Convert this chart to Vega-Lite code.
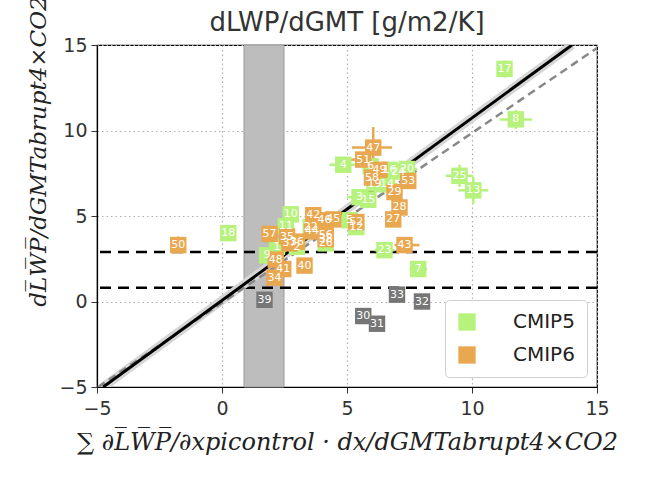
{
  "$schema": "https://vega.github.io/schema/vega-lite/v6.json",
  "autosize": {"type": "none"},
  "width": 500,
  "height": 342,
  "padding": {"left": 97, "top": 45, "right": 49, "bottom": 106},
  "background": "white",
  "title": {"text": "dLWP/dGMT [g/m2/K]", "fontSize": 26, "fontWeight": "normal", "font": "DejaVu Sans", "color": "#333333", "offset": 10, "dy": 50},
  "config": {
    "view": {"stroke": "black", "strokeWidth": 1.2},
    "axis": {"labelFontSize": 19, "labelFont": "DejaVu Sans", "labelColor": "#333333", "labelFlush": false, "tickColor": "#333333", "tickSize": 6, "domainColor": "black", "domainWidth": 1.2, "gridColor": "#b0b0b0", "gridDash": [1.5, 3], "gridWidth": 1.2, "titleFont": "DejaVu Serif", "titleFontStyle": "italic", "titleFontWeight": "normal", "titleColor": "#222222"}
  },
  "datasets": {
    "pts": [
      {"id": "1", "x": 2.2, "y": 3.2, "g": "CMIP5"},
      {"id": "2", "x": 3.0, "y": 3.2, "g": "CMIP5"},
      {"id": "3", "x": 5.5, "y": 6.1, "g": "CMIP5"},
      {"id": "4", "x": 4.85, "y": 8.0, "g": "CMIP5"},
      {"id": "5", "x": 5.1, "y": 4.75, "g": "CMIP5"},
      {"id": "6", "x": 5.95, "y": 7.9, "g": "CMIP5"},
      {"id": "7", "x": 7.85, "y": 1.9, "g": "CMIP5"},
      {"id": "8", "x": 11.75, "y": 10.65, "g": "CMIP5"},
      {"id": "9", "x": 1.8, "y": 2.7, "g": "CMIP5"},
      {"id": "10", "x": 2.75, "y": 5.1, "g": "CMIP5"},
      {"id": "11", "x": 2.55, "y": 4.4, "g": "CMIP5"},
      {"id": "12", "x": 5.37, "y": 4.35, "g": "CMIP5"},
      {"id": "13", "x": 10.05, "y": 6.5, "g": "CMIP5"},
      {"id": "14", "x": 6.6, "y": 6.85, "g": "CMIP5"},
      {"id": "15", "x": 5.85, "y": 5.95, "g": "CMIP5"},
      {"id": "16", "x": 6.7, "y": 7.7, "g": "CMIP5"},
      {"id": "17", "x": 11.3, "y": 13.6, "g": "CMIP5"},
      {"id": "18", "x": 0.25, "y": 4.0, "g": "CMIP5"},
      {"id": "19", "x": 6.1, "y": 6.9, "g": "CMIP5"},
      {"id": "20", "x": 7.4, "y": 7.75, "g": "CMIP5"},
      {"id": "22", "x": 3.55, "y": 4.35, "g": "CMIP5"},
      {"id": "23", "x": 6.5, "y": 3.0, "g": "CMIP5"},
      {"id": "24", "x": 7.05, "y": 7.6, "g": "CMIP5"},
      {"id": "25", "x": 9.5, "y": 7.35, "g": "CMIP5"},
      {"id": "26", "x": 4.15, "y": 3.4, "g": "CMIP5"},
      {"id": "27", "x": 6.85, "y": 4.8, "g": "CMIP6"},
      {"id": "28", "x": 7.1, "y": 5.5, "g": "CMIP6"},
      {"id": "29", "x": 6.9, "y": 6.4, "g": "CMIP6"},
      {"id": "34", "x": 2.1, "y": 1.4, "g": "CMIP6"},
      {"id": "35", "x": 2.6, "y": 3.8, "g": "CMIP6"},
      {"id": "36", "x": 3.0, "y": 3.5, "g": "CMIP6"},
      {"id": "37", "x": 2.7, "y": 3.4, "g": "CMIP6"},
      {"id": "38", "x": 4.15, "y": 3.65, "g": "CMIP6"},
      {"id": "40", "x": 3.3, "y": 2.1, "g": "CMIP6"},
      {"id": "41", "x": 2.45, "y": 1.9, "g": "CMIP6"},
      {"id": "42", "x": 3.65, "y": 5.05, "g": "CMIP6"},
      {"id": "43", "x": 7.3, "y": 3.3, "g": "CMIP6"},
      {"id": "44", "x": 3.6, "y": 4.1, "g": "CMIP6"},
      {"id": "45", "x": 4.45, "y": 4.8, "g": "CMIP6"},
      {"id": "46", "x": 4.1, "y": 4.75, "g": "CMIP6"},
      {"id": "47", "x": 6.05, "y": 9.0, "g": "CMIP6"},
      {"id": "48", "x": 2.15, "y": 2.45, "g": "CMIP6"},
      {"id": "49", "x": 6.3, "y": 7.7, "g": "CMIP6"},
      {"id": "50", "x": -1.75, "y": 3.3, "g": "CMIP6"},
      {"id": "51", "x": 5.65, "y": 8.3, "g": "CMIP6"},
      {"id": "52", "x": 5.37, "y": 4.65, "g": "CMIP6"},
      {"id": "53", "x": 7.45, "y": 7.05, "g": "CMIP6"},
      {"id": "56", "x": 4.15, "y": 3.9, "g": "CMIP6"},
      {"id": "57", "x": 1.9, "y": 3.95, "g": "CMIP6"},
      {"id": "58", "x": 6.0, "y": 7.25, "g": "CMIP6"},
      {"id": "30", "x": 5.65, "y": -0.85, "g": "excluded"},
      {"id": "31", "x": 6.2, "y": -1.3, "g": "excluded"},
      {"id": "32", "x": 8.0, "y": 0.0, "g": "excluded"},
      {"id": "33", "x": 7.0, "y": 0.4, "g": "excluded"},
      {"id": "39", "x": 1.7, "y": 0.1, "g": "excluded"}
    ],
    "errs": [
      {"x": 4.85, "y": 8.0, "xlo": 4.3, "xhi": 5.4, "ylo": 7.7, "yhi": 8.3, "g": "CMIP5"},
      {"x": 11.75, "y": 10.65, "xlo": 11.1, "xhi": 12.4, "ylo": 10.1, "yhi": 11.2, "g": "CMIP5"},
      {"x": 10.05, "y": 6.5, "xlo": 9.45, "xhi": 10.65, "ylo": 5.7, "yhi": 7.3, "g": "CMIP5"},
      {"x": 11.3, "y": 13.6, "xlo": 11.0, "xhi": 11.6, "ylo": 13.1, "yhi": 14.1, "g": "CMIP5"},
      {"x": 9.5, "y": 7.35, "xlo": 8.95, "xhi": 10.05, "ylo": 6.7, "yhi": 8.0, "g": "CMIP5"},
      {"x": 6.5, "y": 3.0, "xlo": 6.1, "xhi": 6.9, "ylo": 2.7, "yhi": 3.3, "g": "CMIP5"},
      {"x": 5.5, "y": 6.1, "xlo": 5.0, "xhi": 6.0, "ylo": 5.7, "yhi": 6.5, "g": "CMIP5"},
      {"x": 5.1, "y": 4.75, "xlo": 4.8, "xhi": 5.5, "ylo": 4.3, "yhi": 5.2, "g": "CMIP5"},
      {"x": 5.37, "y": 4.35, "xlo": 5.0, "xhi": 5.7, "ylo": 4.0, "yhi": 4.8, "g": "CMIP5"},
      {"x": 7.85, "y": 1.9, "xlo": 7.5, "xhi": 8.2, "ylo": 1.5, "yhi": 2.3, "g": "CMIP5"},
      {"x": 7.4, "y": 7.75, "xlo": 7.0, "xhi": 7.8, "ylo": 7.4, "yhi": 8.1, "g": "CMIP5"},
      {"x": 6.6, "y": 6.85, "xlo": 6.2, "xhi": 7.0, "ylo": 6.5, "yhi": 7.2, "g": "CMIP5"},
      {"x": 6.05, "y": 9.0, "xlo": 5.2, "xhi": 6.8, "ylo": 7.8, "yhi": 10.2, "g": "CMIP6"},
      {"x": 5.65, "y": 8.3, "xlo": 5.1, "xhi": 6.2, "ylo": 7.9, "yhi": 8.7, "g": "CMIP6"},
      {"x": 7.3, "y": 3.3, "xlo": 6.9, "xhi": 7.9, "ylo": 3.0, "yhi": 3.6, "g": "CMIP6"},
      {"x": -1.75, "y": 3.3, "xlo": -2.0, "xhi": -1.5, "ylo": 2.8, "yhi": 3.8, "g": "CMIP6"}
    ],
    "band": [{"x1": 0.88, "x2": 2.48}],
    "hlines": [{"y": 2.9}, {"y": 0.8}],
    "fit": [{"x1": -4.75, "y1": -5, "x2": 14.0, "y2": 15}],
    "ref": [{"x1": -4.96, "y1": -5, "x2": 15, "y2": 14.82}]
  },
  "layer": [
    {
      "data": {"name": "band"},
      "mark": {"type": "rect", "color": "#bdbdbd", "stroke": "#9a9a9a", "strokeWidth": 1},
      "encoding": {
        "x": {"field": "x1", "type": "quantitative", "scale": {"domain": [-5, 15], "nice": false, "zero": false},
          "axis": {"values": [-5, 0, 5, 10, 15], "grid": true, "title": "∑ ∂L̅W̅P̅/∂xpicontrol · dx/dGMTabrupt4×CO2", "titleFontSize": 24, "titlePadding": 12, "labelPadding": 6}},
        "x2": {"field": "x2"}
      }
    },
    {
      "data": {"name": "hlines"},
      "mark": {"type": "rule", "color": "black", "strokeWidth": 2.5, "strokeDash": [11, 7]},
      "encoding": {
        "y": {"field": "y", "type": "quantitative", "scale": {"domain": [-5, 15], "nice": false, "zero": false},
          "axis": {"values": [-5, 0, 5, 10, 15], "grid": true, "title": "dL̅W̅P̅/dGMTabrupt4×CO2", "titleFontSize": 23, "titlePadding": 8, "titleY": 106, "labelPadding": 4}}
      }
    },
    {
      "data": {"name": "fit"},
      "mark": {"type": "rule", "color": "#d6d6d6", "strokeWidth": 9, "clip": true},
      "encoding": {"x": {"field": "x1", "type": "quantitative"}, "y": {"field": "y1", "type": "quantitative"}, "x2": {"field": "x2"}, "y2": {"field": "y2"}}
    },
    {
      "data": {"name": "ref"},
      "mark": {"type": "rule", "color": "#888888", "strokeWidth": 2.5, "strokeDash": [8, 5], "clip": true},
      "encoding": {"x": {"field": "x1", "type": "quantitative"}, "y": {"field": "y1", "type": "quantitative"}, "x2": {"field": "x2"}, "y2": {"field": "y2"}}
    },
    {
      "data": {"name": "fit"},
      "mark": {"type": "rule", "color": "black", "strokeWidth": 3, "clip": true},
      "encoding": {"x": {"field": "x1", "type": "quantitative"}, "y": {"field": "y1", "type": "quantitative"}, "x2": {"field": "x2"}, "y2": {"field": "y2"}}
    },
    {
      "data": {"name": "errs"},
      "mark": {"type": "rule", "strokeWidth": 2.5},
      "encoding": {"x": {"field": "xlo", "type": "quantitative"}, "x2": {"field": "xhi"}, "y": {"field": "y", "type": "quantitative"},
        "color": {"field": "g", "type": "nominal"}}
    },
    {
      "data": {"name": "errs"},
      "mark": {"type": "rule", "strokeWidth": 2.5},
      "encoding": {"x": {"field": "x", "type": "quantitative"}, "y": {"field": "ylo", "type": "quantitative"}, "y2": {"field": "yhi"},
        "color": {"field": "g", "type": "nominal"}}
    },
    {
      "data": {"name": "pts"},
      "mark": {"type": "point", "shape": "square", "filled": true, "size": 270, "opacity": 1},
      "encoding": {
        "x": {"field": "x", "type": "quantitative"},
        "y": {"field": "y", "type": "quantitative"},
        "color": {"field": "g", "type": "nominal",
          "scale": {"domain": ["CMIP5", "CMIP6", "excluded"], "range": ["#b6f27c", "#e9a74f", "#767676"]},
          "legend": {"values": ["CMIP5", "CMIP6"], "title": null, "orient": "bottom-right", "offset": 10, "padding": 12, "fillColor": "white", "strokeColor": "#cfcfcf", "cornerRadius": 4, "symbolType": "square", "symbolSize": 300, "symbolStrokeWidth": 0, "labelFontSize": 20, "labelFont": "DejaVu Sans", "labelColor": "#222222", "labelOffset": 36, "rowPadding": 13, "symbolOpacity": 1}}
      }
    },
    {
      "data": {"name": "pts"},
      "mark": {"type": "text", "color": "white", "fontSize": 11, "font": "DejaVu Sans", "align": "center", "baseline": "middle"},
      "encoding": {
        "x": {"field": "x", "type": "quantitative"},
        "y": {"field": "y", "type": "quantitative"},
        "text": {"field": "id", "type": "nominal"}
      }
    }
  ]
}
